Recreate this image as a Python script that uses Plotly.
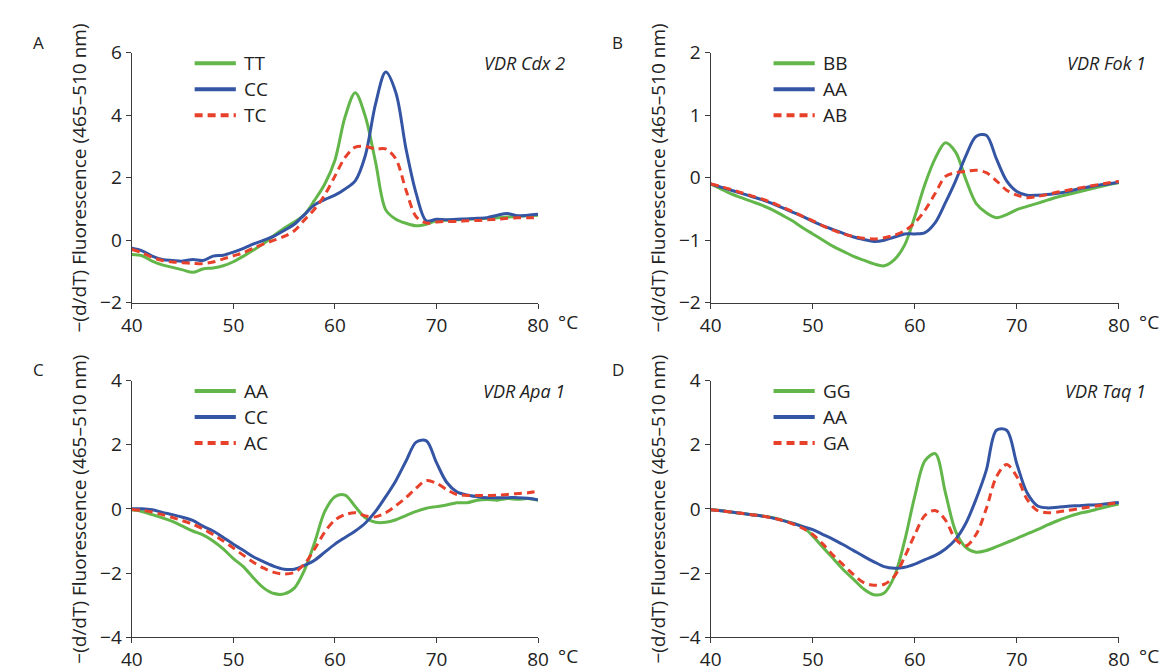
import plotly.graph_objects as go

# ---------------- data ----------------
temps = list(range(40, 81))

# Panel A: VDR Cdx 2
a_TT = [-0.46, -0.5, -0.67, -0.79, -0.87, -0.95, -1.03, -0.92, -0.89, -0.82,
        -0.69, -0.51, -0.31, -0.1, 0.15, 0.38, 0.58, 0.82, 1.28, 1.8,
        2.56, 3.95, 4.72, 3.95, 2.5, 0.97, 0.67, 0.54, 0.46, 0.51,
        0.62, 0.64, 0.65, 0.67, 0.68, 0.7, 0.72, 0.74, 0.76, 0.78, 0.8]
a_CC = [-0.26, -0.34, -0.51, -0.62, -0.65, -0.67, -0.62, -0.65, -0.51, -0.48,
        -0.38, -0.26, -0.12, 0.0, 0.13, 0.31, 0.51, 0.82, 1.13, 1.3,
        1.44, 1.64, 1.9, 2.72, 4.36, 5.38, 4.72, 2.92, 1.49, 0.62,
        0.67, 0.65, 0.67, 0.68, 0.7, 0.72, 0.8, 0.85, 0.78, 0.8, 0.83]
a_TC = [-0.3, -0.4, -0.55, -0.65, -0.7, -0.72, -0.74, -0.75, -0.7, -0.6,
        -0.5, -0.4, -0.25, -0.12, 0.0, 0.12, 0.3, 0.65, 1.0, 1.45,
        2.05, 2.65, 2.98, 3.0, 2.92, 2.92, 2.6, 1.6, 0.75, 0.55,
        0.58, 0.6, 0.6, 0.62, 0.63, 0.65, 0.67, 0.7, 0.72, 0.72, 0.72]

# Panel B: VDR Fok 1
b_BB = [-0.1, -0.18, -0.26, -0.32, -0.38, -0.44, -0.51, -0.6, -0.69, -0.8,
        -0.9, -1.0, -1.1, -1.18, -1.26, -1.32, -1.38, -1.41, -1.31, -1.08,
        -0.62, -0.1, 0.31, 0.56, 0.41, -0.03, -0.41, -0.56, -0.64, -0.59,
        -0.51, -0.46, -0.41, -0.36, -0.31, -0.27, -0.23, -0.19, -0.15, -0.11, -0.08]
b_AA = [-0.1, -0.15, -0.2, -0.25, -0.3, -0.35, -0.41, -0.48, -0.55, -0.62,
        -0.7, -0.77, -0.83, -0.89, -0.95, -0.99, -1.02, -1.0, -0.95, -0.9,
        -0.9, -0.88, -0.72, -0.4, -0.05, 0.35, 0.66, 0.68, 0.3, -0.05,
        -0.22, -0.28, -0.28, -0.27, -0.25, -0.22, -0.18, -0.15, -0.12, -0.1, -0.07]
b_AB = [-0.1, -0.14, -0.19, -0.24, -0.29, -0.34, -0.4, -0.47, -0.54, -0.62,
        -0.69, -0.77, -0.84, -0.9, -0.94, -0.97, -0.98, -0.96, -0.92, -0.85,
        -0.72, -0.52, -0.25, 0.02, 0.08, 0.1, 0.12, 0.08, -0.05, -0.2,
        -0.28, -0.32, -0.3, -0.27, -0.23, -0.2, -0.17, -0.14, -0.11, -0.08, -0.06]

# Panel C: VDR Apa 1
c_AA = [-0.03, -0.08, -0.18, -0.28, -0.39, -0.54, -0.69, -0.81, -1.0, -1.25,
        -1.55, -1.81, -2.16, -2.47, -2.64, -2.65, -2.47, -1.91, -1.05, -0.08,
        0.38, 0.43, 0.07, -0.28, -0.42, -0.42, -0.34, -0.21, -0.08, 0.02,
        0.07, 0.12, 0.19, 0.19, 0.27, 0.29, 0.27, 0.32, 0.3, 0.32, 0.27]
c_CC = [0.0, 0.0, -0.03, -0.11, -0.18, -0.26, -0.36, -0.54, -0.69, -0.89,
        -1.1, -1.3, -1.5, -1.65, -1.79, -1.88, -1.88, -1.76, -1.6, -1.35,
        -1.1, -0.89, -0.69, -0.44, -0.08, 0.38, 0.88, 1.49, 2.08, 2.12,
        1.44, 0.83, 0.53, 0.43, 0.38, 0.35, 0.35, 0.35, 0.35, 0.33, 0.28]
c_AC = [-0.02, -0.05, -0.1, -0.18, -0.27, -0.37, -0.48, -0.62, -0.8, -1.0,
        -1.22, -1.45, -1.67, -1.85, -1.98, -2.03, -1.98, -1.72, -1.25, -0.72,
        -0.35, -0.18, -0.12, -0.22, -0.25, -0.12, 0.1, 0.35, 0.65, 0.88,
        0.8, 0.6, 0.45, 0.42, 0.42, 0.42, 0.43, 0.45, 0.48, 0.5, 0.55]

# Panel D: VDR Taq 1
d_GG = [-0.03, -0.06, -0.1, -0.14, -0.18, -0.22, -0.27, -0.35, -0.45, -0.55,
        -0.85, -1.2, -1.55, -1.9, -2.2, -2.5, -2.68, -2.62, -2.1, -1.0,
        0.4, 1.5, 1.72, 0.5, -0.7, -1.2, -1.35, -1.3, -1.18, -1.05,
        -0.92, -0.78, -0.65, -0.5, -0.37, -0.25, -0.15, -0.08, 0.0, 0.08, 0.15]
d_AA = [-0.03, -0.06, -0.1, -0.14, -0.18, -0.22, -0.28, -0.36, -0.45, -0.55,
        -0.65, -0.8, -0.95, -1.12, -1.3, -1.48, -1.65, -1.8, -1.85, -1.82,
        -1.72, -1.58, -1.45, -1.25, -0.95, -0.45, 0.3, 1.2, 2.45, 2.45,
        1.4, 0.5, 0.1, 0.03, 0.05, 0.08, 0.1, 0.12, 0.13, 0.17, 0.2]
d_GA = [-0.03, -0.06, -0.1, -0.14, -0.18, -0.22, -0.28, -0.36, -0.47, -0.6,
        -0.8, -1.1, -1.45, -1.75, -2.05, -2.3, -2.38, -2.35, -2.1, -1.5,
        -0.8, -0.2, -0.05, -0.35, -0.95, -1.15, -0.8, 0.0, 1.0, 1.38,
        1.0, 0.3, -0.05, -0.12, -0.1, -0.05, 0.0, 0.05, 0.1, 0.15, 0.2]

panels = [
    dict(letter="A", gene="VDR Cdx 2", names=["TT", "CC", "TC"], series=[a_TT, a_CC, a_TC],
         yrange=[-2, 6], dtick=2),
    dict(letter="B", gene="VDR Fok 1", names=["BB", "AA", "AB"], series=[b_BB, b_AA, b_AB],
         yrange=[-2, 2], dtick=1),
    dict(letter="C", gene="VDR Apa 1", names=["AA", "CC", "AC"], series=[c_AA, c_CC, c_AC],
         yrange=[-4, 4], dtick=2),
    dict(letter="D", gene="VDR Taq 1", names=["GG", "AA", "GA"], series=[d_GG, d_AA, d_GA],
         yrange=[-4, 4], dtick=2),
]

# ---------------- style ----------------
W, H = 1169, 672
GREEN, BLUE, RED = "#63b64a", "#3454a4", "#e8412b"
colors = [GREEN, BLUE, RED]
dashes = ["solid", "solid", "dash"]
FONT = "Open Sans"
AXC = "#3a3a3a"

# pixel boxes of the plotting areas: (left, right, top, bottom)
boxes = [(115, 529, 33, 293), (705, 1121, 33, 293),
         (115, 529, 374, 641), (705, 1121, 374, 641)]

def px(x):
    return x / W

def py(y):
    return 1 - y / H

fig = go.Figure()
annotations = []
shapes = []

for i, (p, (l, r, t, b)) in enumerate(zip(panels, boxes)):
    n = i + 1
    xa = "xaxis" if n == 1 else f"xaxis{n}"
    ya = "yaxis" if n == 1 else f"yaxis{n}"
    xr = "x" if n == 1 else f"x{n}"
    yr = "y" if n == 1 else f"y{n}"
    for name, vals, c, d in zip(p["names"], p["series"], colors, dashes):
        fig.add_trace(go.Scatter(
            x=temps, y=vals, mode="lines", name=name, showlegend=False,
            line=dict(color=c, width=3, dash="8px,5px" if d == "dash" else "solid",
                      shape="spline", smoothing=0.9),
            xaxis=xr, yaxis=yr, hoverinfo="skip"))
    fig.layout[xa] = dict(
        domain=[px(l), px(r)], range=[40, 80], anchor=yr, showgrid=False, zeroline=False,
        showline=True, linecolor=AXC, linewidth=1.4, ticks="outside", ticklen=5,
        tickcolor=AXC, tickwidth=1.4, tickvals=[40, 50, 60, 70, 80],
        tickfont=dict(family=FONT, size=19, color="#222"))
    fig.layout[ya] = dict(
        domain=[py(b), py(t)], range=p["yrange"], anchor=xr, showgrid=False, zeroline=False,
        showline=True, linecolor=AXC, linewidth=1.4, ticks="outside", ticklen=5,
        tickcolor=AXC, tickwidth=1.4, dtick=p["dtick"], tick0=0,
        tickfont=dict(family=FONT, size=19, color="#222"))

    # axis title
    annotations.append(dict(
        text="\u2212(d/dT) Fluorescence (465\u2013510 nm)", textangle=-90,
        x=px(l - 54), y=py((t + b) / 2), xref="paper", yref="paper",
        xanchor="center", yanchor="middle", showarrow=False,
        font=dict(family=FONT, size=19, color="#222")))
    # °C unit
    annotations.append(dict(
        text="\u00b0C", x=px(r + 31), y=py(b + 20), xref="paper", yref="paper",
        xanchor="center", yanchor="middle", showarrow=False,
        font=dict(family=FONT, size=19, color="#222")))
    # panel letter
    annotations.append(dict(
        text=p["letter"], x=px(l - 95), y=py(t - 11), xref="paper", yref="paper",
        xanchor="center", yanchor="middle", showarrow=False,
        font=dict(family=FONT, size=17, color="#222")))
    # gene label
    annotations.append(dict(
        text=f"<i>{p['gene']}</i>", x=px(r + 30), y=py(t + 11), xref="paper", yref="paper",
        xanchor="right", yanchor="middle", showarrow=False,
        font=dict(family=FONT, size=18, color="#222")))
    # legend
    for k, (name, c, d) in enumerate(zip(p["names"], colors, dashes)):
        ly = t + 11 + 27 * k
        shapes.append(dict(
            type="line", xref="paper", yref="paper",
            x0=px(l + 64), x1=px(l + 106), y0=py(ly), y1=py(ly),
            line=dict(color=c, width=4, dash="8px,5px" if d == "dash" else "solid")))
        annotations.append(dict(
            text=name, x=px(l + 112), y=py(ly), xref="paper", yref="paper",
            xanchor="left", yanchor="middle", showarrow=False,
            font=dict(family=FONT, size=19, color="#222")))

fig.update_layout(
    width=W, height=H, margin=dict(l=0, r=0, t=0, b=0),
    paper_bgcolor="white", plot_bgcolor="white",
    annotations=annotations, shapes=shapes, showlegend=False,
    font=dict(family=FONT))

fig.write_html("out.html")
